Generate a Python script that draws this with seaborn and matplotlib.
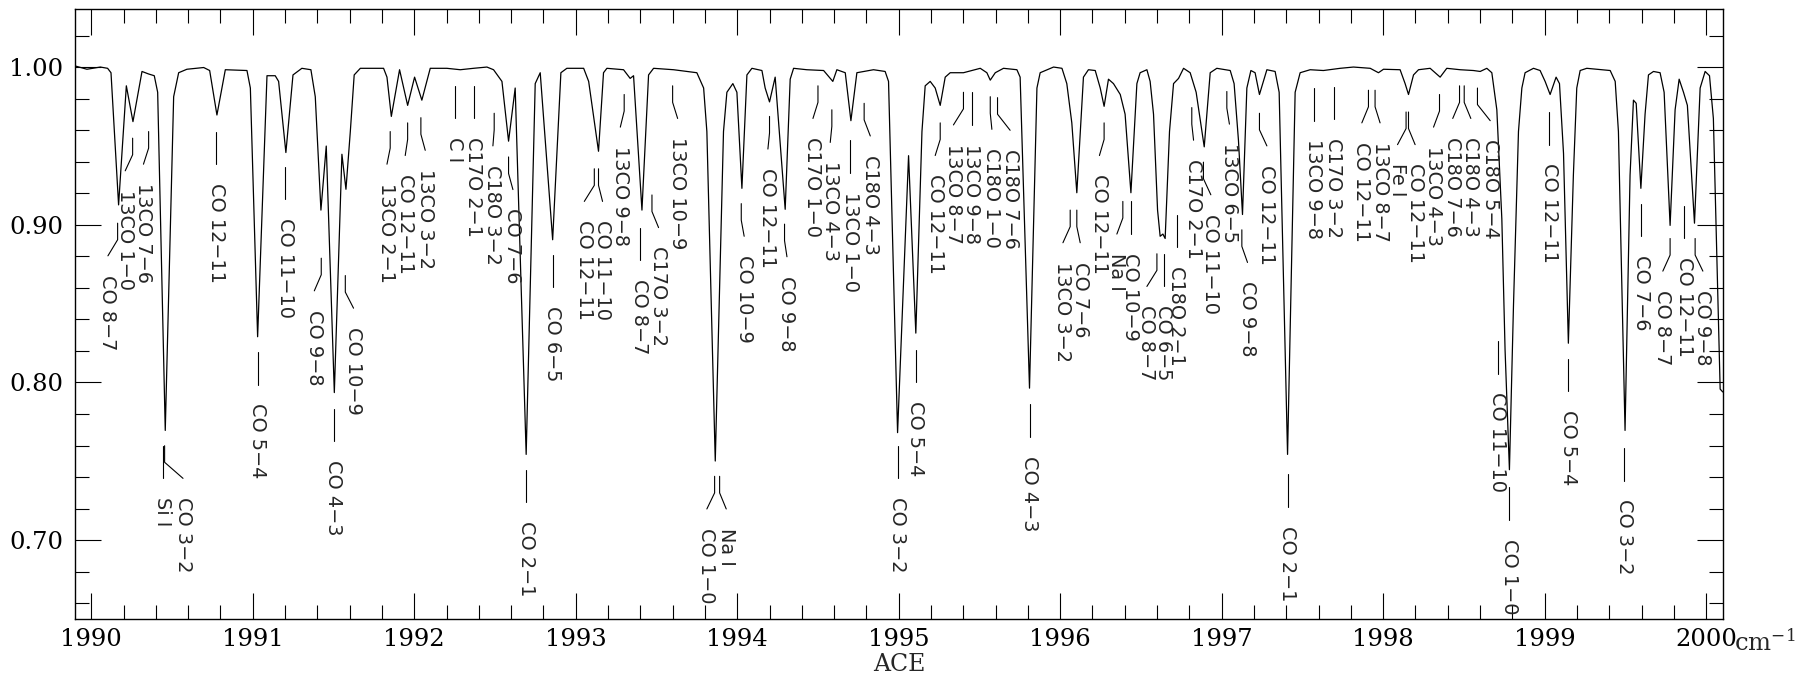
import matplotlib
matplotlib.use("Agg")
import matplotlib.pyplot as plt
from matplotlib.ticker import MultipleLocator, FormatStrFormatter
import numpy as np
import pandas as pd
import seaborn as sns

# Spectrum: wavenumber (cm-1) and relative intensity
wavenumber = [
    1989.903, 1989.973, 1990.056, 1990.101, 1990.122, 1990.169, 1990.217, 1990.258, 1990.314, 1990.355,
    1990.390, 1990.411, 1990.458, 1990.510, 1990.541, 1990.592, 1990.696, 1990.733, 1990.778, 1990.830,
    1990.964, 1990.985, 1991.030, 1991.088, 1991.139, 1991.160, 1991.205, 1991.249, 1991.304, 1991.360,
    1991.387, 1991.422, 1991.455, 1991.505, 1991.552, 1991.577, 1991.604, 1991.628, 1991.666, 1991.810,
    1991.831, 1991.858, 1991.909, 1991.959, 1992.002, 1992.047, 1992.099, 1992.202, 1992.285, 1992.367,
    1992.450, 1992.491, 1992.543, 1992.584, 1992.625, 1992.693, 1992.749, 1992.780, 1992.857, 1992.908,
    1992.945, 1993.049, 1993.080, 1993.141, 1993.172, 1993.193, 1993.296, 1993.337, 1993.358, 1993.410,
    1993.451, 1993.482, 1993.606, 1993.750, 1993.792, 1993.812, 1993.864, 1993.915, 1993.936, 1993.973,
    1993.998, 1994.029, 1994.060, 1994.091, 1994.153, 1994.173, 1994.200, 1994.235, 1994.297, 1994.328,
    1994.349, 1994.431, 1994.535, 1994.592, 1994.617, 1994.669, 1994.704, 1994.741, 1994.844, 1994.916,
    1994.937, 1994.993, 1995.061, 1995.106, 1995.144, 1995.164, 1995.195, 1995.226, 1995.257, 1995.288,
    1995.319, 1995.401, 1995.453, 1995.505, 1995.546, 1995.567, 1995.598, 1995.649, 1995.732, 1995.752,
    1995.810, 1995.856, 1995.876, 1995.959, 1996.011, 1996.041, 1996.072, 1996.103, 1996.144, 1996.175,
    1996.217, 1996.248, 1996.272, 1996.299, 1996.330, 1996.372, 1996.402, 1996.438, 1996.475, 1996.495,
    1996.537, 1996.557, 1996.578, 1996.603, 1996.619, 1996.636, 1996.650, 1996.677, 1996.702, 1996.733,
    1996.764, 1996.805, 1996.842, 1996.892, 1996.929, 1996.970, 1997.053, 1997.077, 1997.104, 1997.129,
    1997.156, 1997.181, 1997.207, 1997.234, 1997.280, 1997.331, 1997.356, 1997.408, 1997.455, 1997.486,
    1997.548, 1997.630, 1997.734, 1997.816, 1997.920, 1997.971, 1998.002, 1998.105, 1998.136, 1998.157,
    1998.188, 1998.219, 1998.291, 1998.322, 1998.353, 1998.394, 1998.477, 1998.559, 1998.601, 1998.642,
    1998.673, 1998.704, 1998.735, 1998.755, 1998.782, 1998.807, 1998.838, 1998.859, 1998.879, 1998.931,
    1998.972, 1999.003, 1999.034, 1999.071, 1999.092, 1999.117, 1999.147, 1999.178, 1999.199, 1999.220,
    1999.261, 1999.406, 1999.437, 1999.457, 1999.498, 1999.529, 1999.550, 1999.567, 1999.596, 1999.622,
    1999.643, 1999.674, 1999.715, 1999.740, 1999.777, 1999.808, 1999.833, 1999.860, 1999.884, 1999.928,
    1999.963, 1999.994, 2000.021, 2000.045, 2000.087, 2000.103,
]
intensity = [
    1.0006, 0.9986, 1.0000, 0.9992, 0.9964, 0.9126, 0.9881, 0.9654, 0.9972, 0.9956,
    0.9945, 0.9840, 0.7696, 0.9812, 0.9964, 0.9986, 0.9997, 0.9978, 0.9696, 0.9983,
    0.9978, 0.9867, 0.8290, 0.9945, 0.9945, 0.9909, 0.9458, 0.9950, 0.9992, 0.9983,
    0.9812, 0.9093, 0.9499, 0.7936, 0.9447, 0.9225, 0.9591, 0.9950, 0.9992, 0.9992,
    0.9936, 0.9687, 0.9983, 0.9757, 0.9936, 0.9790, 0.9992, 0.9992, 0.9983, 0.9992,
    1.0000, 0.9983, 0.9909, 0.9530, 0.9867, 0.7544, 0.9895, 0.9964, 0.8905, 0.9964,
    0.9992, 0.9992, 0.9909, 0.9466, 0.9964, 0.9992, 0.9983, 0.9928, 0.9945, 0.9093,
    0.9950, 0.9992, 0.9983, 0.9964, 0.9867, 0.9591, 0.7502, 0.9591, 0.9840, 0.9895,
    0.9840, 0.9231, 0.9950, 0.9992, 0.9978, 0.9867, 0.9779, 0.9936, 0.9098, 0.9923,
    0.9992, 0.9983, 0.9978, 0.9909, 0.9983, 0.9964, 0.9660, 0.9964, 0.9983, 0.9972,
    0.9909, 0.7682, 0.9438, 0.8313, 0.9591, 0.9881, 0.9909, 0.9867, 0.9757, 0.9936,
    0.9964, 0.9964, 0.9978, 0.9992, 0.9964, 0.9917, 0.9964, 0.9992, 0.9983, 0.9936,
    0.7964, 0.9867, 0.9964, 1.0000, 0.9992, 0.9895, 0.9646, 0.9203, 0.9936, 0.9983,
    0.9978, 0.9867, 0.9751, 0.9923, 0.9895, 0.9826, 0.9701, 0.9203, 0.9895, 0.9964,
    0.9983, 0.9909, 0.9701, 0.9093, 0.8927, 0.8941, 0.8913, 0.9591, 0.9895, 0.9928,
    0.9992, 0.9964, 0.9840, 0.9494, 0.9964, 0.9992, 0.9978, 0.9895, 0.9535, 0.9065,
    0.9867, 0.9978, 0.9964, 0.9826, 0.9983, 0.9972, 0.9840, 0.7544, 0.9840, 0.9964,
    0.9983, 0.9978, 0.9992, 1.0000, 0.9992, 0.9964, 0.9986, 0.9983, 0.9895, 0.9826,
    0.9950, 0.9983, 0.9992, 0.9964, 0.9936, 0.9992, 0.9983, 0.9978, 0.9972, 0.9992,
    0.9964, 0.9729, 0.9037, 0.8207, 0.7447, 0.8484, 0.9591, 0.9867, 0.9964, 0.9992,
    0.9978, 0.9909, 0.9826, 0.9936, 0.9895, 0.9452, 0.8249, 0.9314, 0.9867, 0.9978,
    0.9992, 0.9978, 0.9909, 0.9591, 0.7696, 0.9314, 0.9790, 0.9770, 0.9231, 0.9701,
    0.9950, 0.9972, 0.9964, 0.9840, 0.8996, 0.9729, 0.9923, 0.9840, 0.9757, 0.9010,
    0.9867, 0.9972, 0.9945, 0.9674, 0.7958, 0.7940,
]

# Line identifications and the wavenumber of each line
line_names = [
    "CO 8−7", "13CO 1−0", "13CO 7−6", "Si I", "CO 3−2", "CO 12−11", "CO 5−4", "CO 11−10",
    "CO 9−8", "CO 4−3", "CO 10−9", "13CO 2−1", "CO 12−11", "13CO 3−2", "C I", "C17O 2−1",
    "C18O 3−2", "CO 7−6", "CO 2−1", "CO 6−5", "CO 12−11", "CO 11−10", "13CO 9−8", "CO 8−7",
    "C17O 3−2", "13CO 10−9", "CO 1−0", "Na I", "CO 10−9", "CO 12−11", "CO 9−8", "C17O 1−0",
    "13CO 4−3", "13CO 1−0", "C18O 4−3", "CO 3−2", "CO 5−4", "CO 12−11", "13CO 8−7", "13CO 9−8",
    "C18O 1−0", "C18O 7−6", "CO 4−3", "13CO 3−2", "CO 7−6", "CO 12−11", "Na I", "CO 10−9",
    "CO 8−7", "CO 6−5", "C18O 2−1", "C17O 2−1", "CO 11−10", "13CO 6−5", "CO 9−8", "CO 12−11",
    "CO 2−1", "13CO 9−8", "C17O 3−2", "CO 12−11", "13CO 8−7", "Fe I", "CO 12−11", "13CO 4−3",
    "C18O 7−6", "C18O 4−3", "C18O 5−4", "CO 11−10", "CO 1−0", "CO 12−11", "CO 5−4", "CO 3−2",
    "CO 7−6", "CO 8−7", "CO 12−11", "CO 9−8",
]
line_pos = [
    1990.163, 1990.256, 1990.355, 1990.444, 1990.454, 1990.774, 1991.030, 1991.201,
    1991.424, 1991.501, 1991.573, 1991.851, 1991.959, 1992.041, 1992.250, 1992.367,
    1992.495, 1992.584, 1992.693, 1992.857, 1993.115, 1993.141, 1993.300, 1993.399,
    1993.472, 1993.600, 1993.860, 1993.891, 1994.025, 1994.200, 1994.293, 1994.500,
    1994.586, 1994.700, 1994.786, 1994.993, 1995.106, 1995.257, 1995.401, 1995.453,
    1995.567, 1995.612, 1995.810, 1996.062, 1996.103, 1996.272, 1996.388, 1996.438,
    1996.599, 1996.640, 1996.722, 1996.815, 1996.887, 1997.032, 1997.125, 1997.234,
    1997.408, 1997.569, 1997.695, 1997.909, 1997.950, 1998.142, 1998.157, 1998.349,
    1998.473, 1998.502, 1998.584, 1998.710, 1998.780, 1999.030, 1999.147, 1999.494,
    1999.598, 1999.777, 1999.864, 1999.932,
]

# Label layout: where each label text sits, and the top of its marker
label_pos = [
    1990.103, 1990.210, 1990.323, 1990.444, 1990.568, 1990.774, 1991.030, 1991.201,
    1991.381, 1991.501, 1991.624, 1991.831, 1991.944, 1992.068, 1992.250, 1992.367,
    1992.487, 1992.611, 1992.693, 1992.857, 1993.053, 1993.166, 1993.276, 1993.395,
    1993.513, 1993.631, 1993.812, 1993.932, 1994.043, 1994.190, 1994.308, 1994.469,
    1994.576, 1994.700, 1994.824, 1994.993, 1995.106, 1995.226, 1995.339, 1995.453,
    1995.577, 1995.690, 1995.810, 1996.017, 1996.124, 1996.243, 1996.351, 1996.438,
    1996.537, 1996.640, 1996.722, 1996.826, 1996.933, 1997.048, 1997.160, 1997.280,
    1997.408, 1997.569, 1997.695, 1997.868, 1997.981, 1998.089, 1998.198, 1998.312,
    1998.431, 1998.543, 1998.663, 1998.710, 1998.780, 1999.030, 1999.147, 1999.494,
    1999.598, 1999.732, 1999.864, 1999.980,
]
label_top = [
    0.9010, 0.9549, 0.9591, 0.7599, 0.7599, 0.9591, 0.8194, 0.9369,
    0.8788, 0.7834, 0.8678, 0.9591, 0.9646, 0.9679, 0.9881, 0.9881,
    0.9707, 0.9430, 0.7447, 0.8811, 0.9355, 0.9355, 0.9826, 0.8982,
    0.9189, 0.9881, 0.7405, 0.7405, 0.9134, 0.9687, 0.9004, 0.9881,
    0.9729, 0.9535, 0.9770, 0.7599, 0.8207, 0.9646, 0.9840, 0.9840,
    0.9812, 0.9806, 0.7862, 0.9093, 0.9093, 0.9646, 0.9148, 0.9148,
    0.8816, 0.8816, 0.9065, 0.9743, 0.9397, 0.9845, 0.8968, 0.9707,
    0.7419, 0.9867, 0.9876, 0.9853, 0.9853, 0.9715, 0.9715, 0.9826,
    0.9881, 0.9881, 0.9867, 0.8263, 0.7336, 0.9715, 0.8152, 0.7585,
    0.9134, 0.8913, 0.9120, 0.8913,
]

xticks = list(range(1990, 2001))
yticks = [0.70, 0.80, 0.90, 1.00]

sns.set_style("ticks", {"xtick.direction": "in", "ytick.direction": "in",
                        "axes.edgecolor": "black"})
plt.rcParams["font.family"] = ["DejaVu Serif"]
plt.rcParams["mathtext.fontset"] = "dejavuserif"

fig, ax = plt.subplots(figsize=(18.06, 6.87), dpi=100)
fig.subplots_adjust(left=0.0417, right=0.9539, bottom=0.0996, top=0.9862)

spec = pd.DataFrame({"wavenumber": wavenumber, "intensity": intensity})
sns.lineplot(data=spec, x="wavenumber", y="intensity", ax=ax, color="black",
             linewidth=0.9, estimator=None, sort=False)

# markers: short vertical stroke, bent towards the label when it was moved aside
v_len, d_len, gap = 0.0105, 0.0102, 0.0119
for name, x0, x1, top in zip(line_names, line_pos, label_pos, label_top):
    if abs(x1 - x0) < 0.005:
        xs, ys = [x0, x0], [top, top - v_len - d_len]
    else:
        xs, ys = [x0, x0, x1], [top, top - v_len, top - v_len - d_len]
    ax.plot(xs, ys, color="black", linewidth=0.8)
    ax.text(x1, top - v_len - d_len - gap, name, rotation=-90, ha="center", va="top",
            fontsize=13.9, family="DejaVu Sans")

ax.set_xlim(1989.901, 2000.103)
ax.set_ylim(0.6503, 1.0365)
ax.set_xticks(xticks)
ax.set_yticks(yticks)
ax.xaxis.set_minor_locator(MultipleLocator(0.2))
ax.yaxis.set_minor_locator(MultipleLocator(0.02))
ax.yaxis.set_major_formatter(FormatStrFormatter("%.2f"))
ax.tick_params(which="both", direction="in", top=True, right=True, width=0.8,
               colors="black", labelsize=17.5)
ax.tick_params(which="major", length=18.7)
ax.tick_params(which="minor", length=10.4)
ax.tick_params(axis="x", pad=7)
ax.tick_params(axis="y", pad=8.5)
for sp in ax.spines.values():
    sp.set_linewidth(1.0)

ax.set_xlabel("ACE", fontsize=17, labelpad=1)
ax.set_ylabel("")
ax.annotate("cm$^{-1}$", xy=(2000, 0), xycoords=ax.get_xaxis_transform(),
            xytext=(20, -23), textcoords="offset points", ha="left",
            va="baseline", fontsize=17.5)

fig.savefig("out.png", dpi=100)
